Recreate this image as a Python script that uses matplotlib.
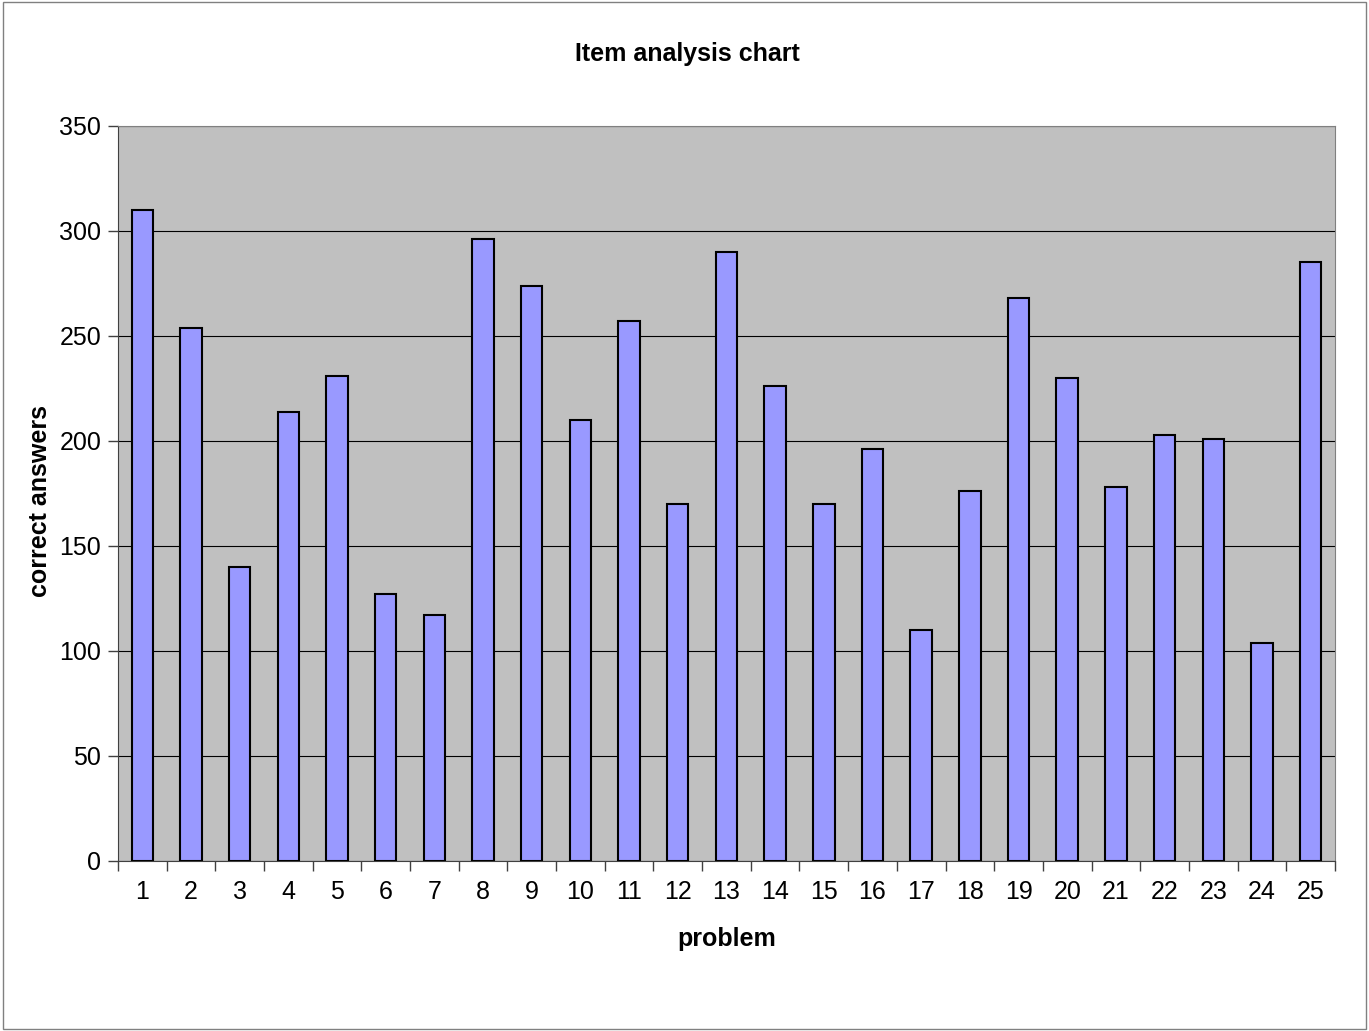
import matplotlib
matplotlib.use("Agg")
import matplotlib.pyplot as plt
from matplotlib.patches import Rectangle

problems = [str(i) for i in range(1, 26)]
correct = [310, 254, 140, 214, 231, 127, 117, 296, 274, 210, 257, 170, 290, 226, 170,
           196, 110, 176, 268, 230, 178, 203, 201, 104, 285]
yticks = [0, 50, 100, 150, 200, 250, 300, 350]

plt.rcParams['font.family'] = ['Liberation Sans', 'DejaVu Sans']

fig = plt.figure(figsize=(13.69, 10.31), dpi=100)
fig.patches.append(Rectangle((0.002, 0.002), 0.996, 0.996, transform=fig.transFigure,
                             fill=False, edgecolor='#808080', linewidth=1.0))
ax = fig.add_axes([0.0862, 0.1649, 0.8889, 0.7129])
ax.set_facecolor('#C0C0C0')

x = list(range(1, 26))
ax.bar(x, correct, width=0.44, color='#9999FF', edgecolor='black', linewidth=1.5, zorder=3)

ax.set_xlim(0.5, 25.5)
ax.set_ylim(0, 350)
ax.set_yticks(yticks)
ax.set_yticklabels([str(v) for v in yticks], fontsize=18)
ax.yaxis.grid(True, color='black', linewidth=0.8, zorder=1)
ax.set_axisbelow(True)

ax.set_xticks(x)
ax.set_xticklabels(problems, fontsize=18)
ax.set_xticks([i + 0.5 for i in range(0, 26)], minor=True)
ax.tick_params(axis='x', which='major', length=0, pad=14)
ax.tick_params(axis='x', which='minor', length=7, direction='out', width=1, color='#404040')
ax.tick_params(axis='y', length=7, direction='out', width=1, pad=5, color='#404040')

for s in ['top', 'right']:
    ax.spines[s].set_color('#808080')
for s in ['left', 'bottom']:
    ax.spines[s].set_color('#404040')

ax.set_xlabel('problem', fontsize=18, fontweight='bold', labelpad=16)
ax.set_ylabel('correct answers', fontsize=18, fontweight='bold')
ax.yaxis.set_label_coords(-0.054, 0.49)
fig.text(0.502, 0.948, 'Item analysis chart', ha='center', va='center',
         fontsize=18, fontweight='bold')

fig.savefig('out.png', dpi=100)
